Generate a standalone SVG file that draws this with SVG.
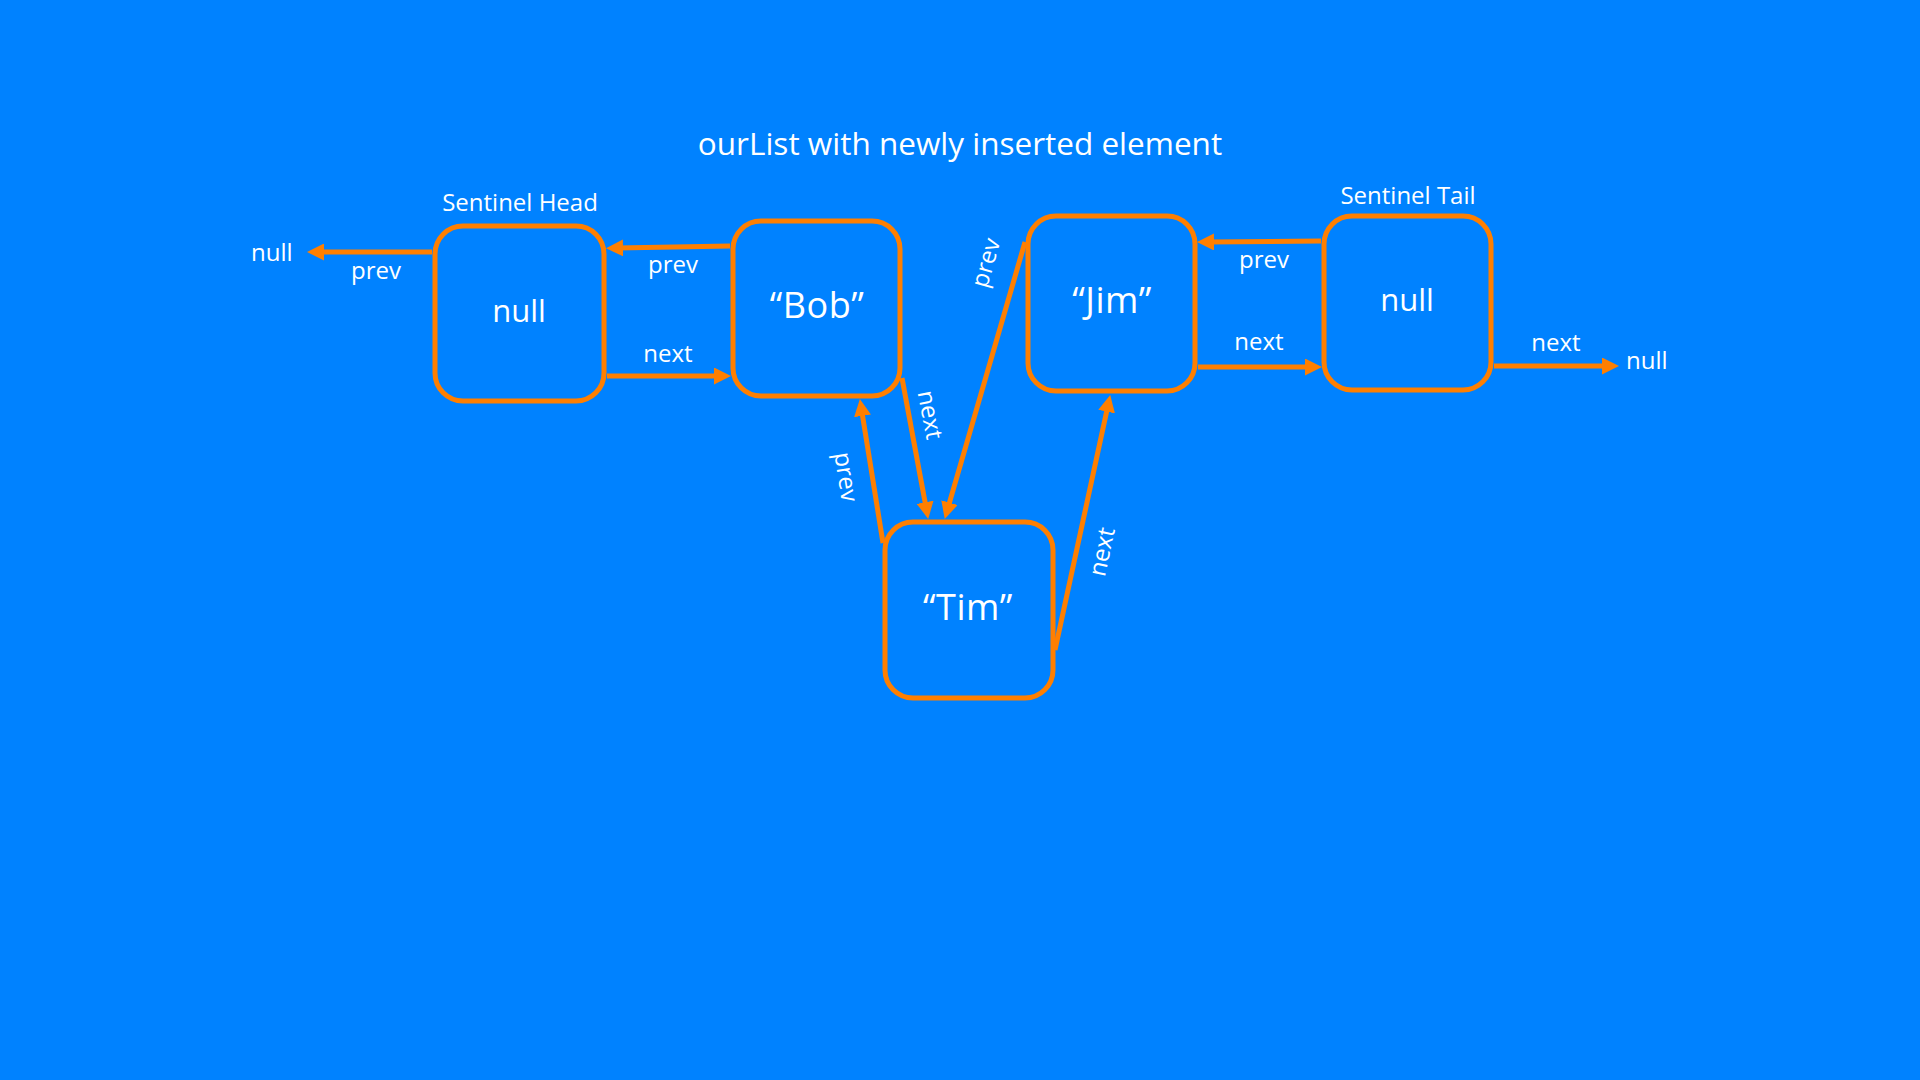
<svg xmlns="http://www.w3.org/2000/svg" width="1920" height="1080" viewBox="0 0 1920 1080">
  <style>
    .node { fill: none; stroke: #FF7F00; stroke-width: 5; }
    .edge { fill: none; stroke: #FF7F00; stroke-width: 5; marker-end: url(#arrow); }
    text { font-family: "Open Sans", "Noto Sans", "Liberation Sans", sans-serif; fill: #FFFFFF; }
    .title { font-size: 31.5px; text-anchor: middle; }
    .cap { font-size: 24px; text-anchor: middle; }
    .lbl { font-size: 24px; text-anchor: middle; }
    .val { font-size: 31px; text-anchor: middle; }
    .name { font-size: 36px; text-anchor: middle; letter-spacing: 0.5px; }
  </style>
  <defs>
    <marker id="arrow" markerUnits="userSpaceOnUse" markerWidth="17" markerHeight="17" refX="6" refY="8.5" orient="auto">
      <path d="M0,0 L17,8.5 L0,17 z" fill="#FF7F00"/>
    </marker>
  </defs>
  <rect x="0" y="0" width="1920" height="1080" fill="#0082FF"/>

  <text class="title" x="960" y="155">ourList with newly inserted element</text>

  <g id="connectors">
    <line class="edge" x1="432" y1="252" x2="318" y2="252"/>
    <line class="edge" x1="730" y1="246" x2="617" y2="248"/>
    <line class="edge" x1="607" y1="376" x2="720" y2="376"/>
    <line class="edge" x1="1321" y1="241" x2="1208" y2="242"/>
    <line class="edge" x1="1198" y1="367" x2="1311" y2="367"/>
    <line class="edge" x1="1494" y1="366" x2="1608" y2="366"/>
    <line class="edge" x1="883" y1="543" x2="861.6" y2="409.9"/>
    <line class="edge" x1="902" y1="378" x2="926.2" y2="508.2"/>
    <line class="edge" x1="1025" y1="242" x2="947.8" y2="508.4"/>
    <line class="edge" x1="1055" y1="650" x2="1107.9" y2="405.8"/>
    <text class="lbl" x="376" y="279">prev</text>
    <text class="lbl" x="673" y="273">prev</text>
    <text class="lbl" x="668" y="362">next</text>
    <text class="lbl" x="1264" y="268">prev</text>
    <text class="lbl" x="1259" y="350">next</text>
    <text class="lbl" x="1556" y="351">next</text>
    <text class="lbl" transform="translate(845,477) rotate(81)" x="0" y="7">prev</text>
    <text class="lbl" transform="translate(929,415) rotate(79)" x="0" y="7">next</text>
    <text class="lbl" transform="translate(987,263) rotate(-74)" x="0" y="7">prev</text>
    <text class="lbl" transform="translate(1103,552) rotate(-78)" x="0" y="7">next</text>
  </g>

  <g id="null-left">
    <text class="lbl" x="251" y="261" style="text-anchor:start">null</text>
  </g>

  <g id="sentinel-head">
    <rect class="node" x="435" y="226" width="169" height="175" rx="28" ry="28"/>
    <text class="cap" x="520" y="211">Sentinel Head</text>
    <text class="val" x="519" y="322">null</text>
  </g>

  <g id="bob">
    <rect class="node" x="733" y="221" width="167" height="175" rx="28" ry="28"/>
    <text class="name" x="817" y="318">“Bob”</text>
  </g>

  <g id="jim">
    <rect class="node" x="1028" y="216" width="167" height="175" rx="28" ry="28"/>
    <text class="name" x="1112" y="313">“Jim”</text>
  </g>

  <g id="sentinel-tail">
    <rect class="node" x="1324" y="216" width="167" height="174" rx="28" ry="28"/>
    <text class="cap" x="1408" y="204">Sentinel Tail</text>
    <text class="val" x="1407" y="311">null</text>
  </g>

  <g id="tim">
    <rect class="node" x="885" y="522" width="168" height="176" rx="28" ry="28"/>
    <text class="name" x="968" y="620">“Tim”</text>
  </g>

  <g id="null-right">
    <text class="lbl" x="1626" y="369" style="text-anchor:start">null</text>
  </g>
</svg>
